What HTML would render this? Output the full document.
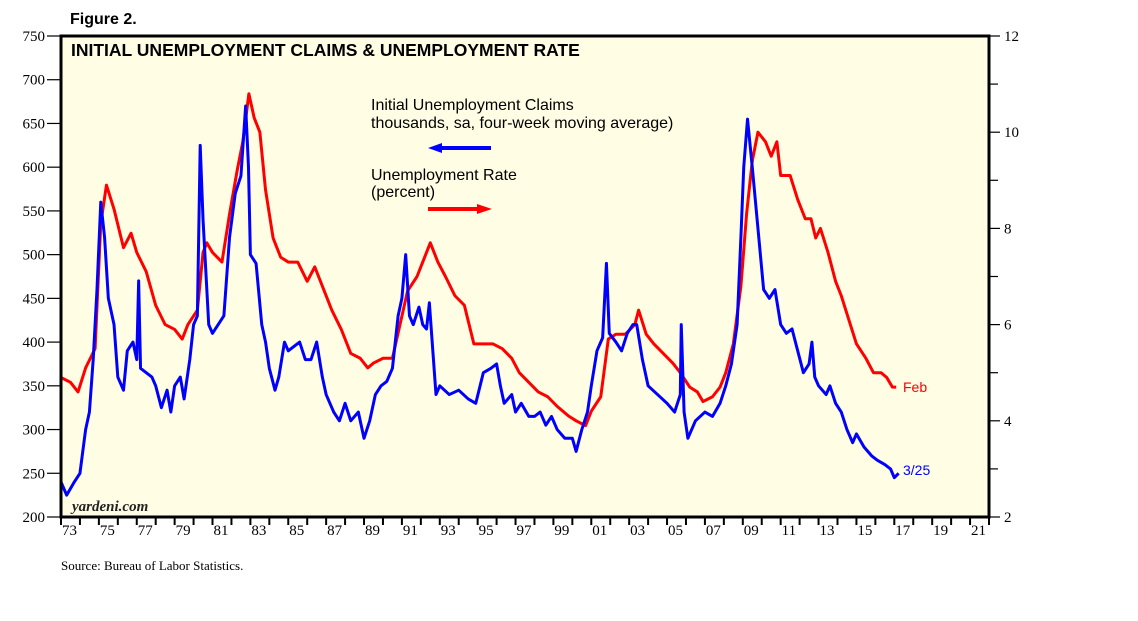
<!DOCTYPE html>
<html><head><meta charset="utf-8"><style>
body{margin:0;background:#fff;width:1138px;height:621px;overflow:hidden;font-family:"Liberation Sans",sans-serif}
svg{position:absolute;left:0;top:0}
</style></head><body>
<svg id="c" width="1138" height="621">
<text x="70" y="24" font-size="16" font-weight="bold" font-family="Liberation Sans">Figure 2.</text>
<rect x="61" y="36" width="928" height="481" fill="#fffde3"/>
<g id="grid"></g>
<text x="71" y="56" font-size="17.5" font-weight="bold" font-family="Liberation Sans">INITIAL UNEMPLOYMENT CLAIMS &amp; UNEMPLOYMENT RATE</text>
<text x="371" y="110" font-size="16" font-family="Liberation Sans">Initial Unemployment Claims</text>
<text x="371" y="128" font-size="16" font-family="Liberation Sans">thousands, sa, four-week moving average)</text>
<g><line x1="440" y1="148" x2="491" y2="148" stroke="#0000ff" stroke-width="4"/><polygon points="428,148 442,143 442,153" fill="#0000ff"/></g>
<text x="371" y="180" font-size="16" font-family="Liberation Sans">Unemployment Rate</text>
<text x="371" y="197" font-size="16" font-family="Liberation Sans">(percent)</text>
<g><line x1="428" y1="209" x2="479" y2="209" stroke="#ff0000" stroke-width="4"/><polygon points="492,209 477,204 477,214" fill="#ff0000"/></g>
<g id="series"></g>
<rect x="61" y="36" width="928" height="481" fill="none" stroke="#000" stroke-width="3"/>
<text x="72" y="511" font-size="15" font-style="italic" font-weight="bold" font-family="Liberation Serif" fill="#222">yardeni.com</text>
<text x="903" y="392" font-size="14" fill="#ff0000" font-family="Liberation Sans">Feb</text>
<text x="903" y="475" font-size="14" fill="#0000ff" font-family="Liberation Sans">3/25</text>
<text x="61" y="570" font-size="13" font-family="Liberation Serif">Source: Bureau of Labor Statistics.</text>
</svg>
<script>
const claimsT=[1973.0,1973.3,1973.7,1974.0,1974.3,1974.5,1974.7,1974.9,1975.1,1975.3,1975.5,1975.8,1976.0,1976.3,1976.5,1976.8,1977.0,1977.1,1977.2,1977.5,1977.8,1978.0,1978.3,1978.6,1978.8,1979.0,1979.3,1979.5,1979.8,1980.0,1980.2,1980.35,1980.5,1980.8,1981.0,1981.3,1981.6,1981.9,1982.2,1982.5,1982.75,1982.9,1983.0,1983.3,1983.6,1983.8,1984.0,1984.3,1984.5,1984.8,1985.0,1985.3,1985.6,1985.9,1986.2,1986.5,1986.8,1987.0,1987.4,1987.7,1988.0,1988.3,1988.7,1989.0,1989.3,1989.6,1989.9,1990.2,1990.5,1990.8,1991.0,1991.2,1991.4,1991.6,1991.9,1992.1,1992.3,1992.45,1992.6,1992.8,1993.0,1993.5,1994.0,1994.5,1994.9,1995.3,1995.7,1996.0,1996.2,1996.4,1996.8,1997.0,1997.3,1997.7,1998.0,1998.3,1998.6,1998.9,1999.2,1999.6,2000.0,2000.2,2000.5,2000.8,2001.0,2001.3,2001.6,2001.8,2001.95,2002.3,2002.6,2002.9,2003.2,2003.4,2003.7,2004.0,2004.5,2005.0,2005.4,2005.7,2005.75,2005.9,2006.1,2006.5,2007.0,2007.4,2007.8,2008.1,2008.4,2008.7,2008.9,2009.05,2009.25,2009.5,2009.8,2010.1,2010.4,2010.7,2011.0,2011.3,2011.6,2011.9,2012.2,2012.5,2012.65,2012.8,2013.0,2013.4,2013.6,2013.9,2014.2,2014.5,2014.8,2015.0,2015.4,2015.8,2016.1,2016.5,2016.8,2017.0,2017.23];
const claimsV=[240,225,240,250,300,320,380,460,560,520,450,420,360,345,390,400,380,470,370,365,360,350,325,345,320,350,360,335,380,420,430,625,540,420,410,420,430,520,570,590,670,600,500,490,420,400,370,345,360,400,390,395,400,380,380,400,360,340,320,310,330,310,320,290,310,340,350,355,370,430,450,500,430,420,440,420,415,445,400,340,350,340,345,335,330,365,370,375,350,330,340,320,330,315,315,320,305,315,300,290,290,275,300,320,350,390,405,490,410,400,390,410,420,420,380,350,340,330,320,340,420,320,290,310,320,315,330,350,375,420,520,600,655,600,530,460,450,460,420,410,415,390,365,375,400,360,350,340,350,330,320,300,285,295,280,270,265,260,255,245,250];
const rateT=[1973.0,1973.5,1973.9,1974.3,1974.8,1975.1,1975.4,1975.8,1976.3,1976.7,1977.0,1977.5,1978.0,1978.5,1979.0,1979.4,1979.7,1980.2,1980.5,1980.7,1981.0,1981.5,1981.9,1982.3,1982.6,1982.92,1983.2,1983.5,1983.8,1984.2,1984.6,1985.0,1985.5,1986.0,1986.4,1986.9,1987.3,1987.8,1988.3,1988.8,1989.2,1989.5,1990.0,1990.5,1990.9,1991.3,1991.8,1992.1,1992.5,1992.9,1993.3,1993.8,1994.3,1994.8,1995.3,1995.8,1996.3,1996.8,1997.2,1997.7,1998.2,1998.7,1999.2,1999.8,2000.2,2000.7,2001.0,2001.5,2001.9,2002.3,2002.8,2003.3,2003.5,2003.9,2004.3,2004.8,2005.3,2005.7,2006.2,2006.6,2006.9,2007.4,2007.8,2008.1,2008.5,2008.9,2009.2,2009.5,2009.8,2010.2,2010.5,2010.8,2011.0,2011.5,2011.9,2012.3,2012.6,2012.85,2013.1,2013.5,2013.9,2014.2,2014.6,2015.0,2015.5,2015.9,2016.3,2016.6,2016.9,2017.1];
const rateV=[4.9,4.8,4.6,5.1,5.5,8.1,8.9,8.4,7.6,7.9,7.5,7.1,6.4,6.0,5.9,5.7,6.0,6.3,7.5,7.7,7.5,7.3,8.3,9.2,9.8,10.8,10.3,10.0,8.8,7.8,7.4,7.3,7.3,6.9,7.2,6.7,6.3,5.9,5.4,5.3,5.1,5.2,5.3,5.3,6.0,6.7,7.0,7.3,7.7,7.3,7.0,6.6,6.4,5.6,5.6,5.6,5.5,5.3,5.0,4.8,4.6,4.5,4.3,4.1,4.0,3.9,4.2,4.5,5.7,5.8,5.8,6.0,6.3,5.8,5.6,5.4,5.2,5.0,4.7,4.6,4.4,4.5,4.7,5.0,5.6,6.8,8.3,9.4,10.0,9.8,9.5,9.8,9.1,9.1,8.6,8.2,8.2,7.8,8.0,7.5,6.9,6.6,6.1,5.6,5.3,5.0,5.0,4.9,4.7,4.7];
const leftTicks=[200,250,300,350,400,450,500,550,600,650,700,750];
const rightTicks=[2,4,6,8,10,12];
const yearLabels=['73','75','77','79','81','83','85','87','89','91','93','95','97','99','01','03','05','07','09','11','13','15','17','19','21'];
const L=61,R=989,T=36,B=517,Y0=1973,Y1=2022;
const xs=t=>L+(t-Y0)/(Y1-Y0)*(R-L);
const yl=v=>B-(v-200)/550*(B-T);
const yr=v=>B-(v-2)/10*(B-T);
const NS='http://www.w3.org/2000/svg';
const g=document.getElementById('grid'),s=document.getElementById('series');
function mk(tag,a,p){const e=document.createElementNS(NS,tag);for(const k in a)e.setAttribute(k,a[k]);p.appendChild(e);return e;}
leftTicks.forEach(v=>{
 const l=mk('line',{x1:47,x2:L,y1:yl(v),y2:yl(v),stroke:'#000','stroke-width':1.2},g);
 
 
 const t=mk('text',{x:45,y:yl(v)+5,'text-anchor':'end','font-size':15,'font-family':'Liberation Serif'},g);t.textContent=v;
 
 
});
for(let v=3;v<12;v+=2){const l=mk('line',{x1:R,x2:R+9,y1:yr(v),y2:yr(v),stroke:'#000','stroke-width':1.2},g);
 
 }
rightTicks.forEach(v=>{
 const l=mk('line',{x1:R,x2:R+11,y1:yr(v),y2:yr(v),stroke:'#000','stroke-width':1.2},g);
 
 
 const t=mk('text',{x:R+15,y:yr(v)+5,'font-size':15,'font-family':'Liberation Serif'},g);t.textContent=v;
 
 
});
for(let y=Y0;y<=Y1;y++){const l=mk('line',{x1:xs(y),x2:xs(y),y1:B,y2:B+8,stroke:'#000','stroke-width':2},g);
 
 }
yearLabels.forEach((lb,i)=>{const t=mk('text',{x:xs(Y0+2*i)+1,y:B+18,'font-size':15,'font-family':'Liberation Serif'},g);t.textContent=lb;
 
 });
const rp=mk('polyline',{points:rateT.map((t,i)=>xs(t)+','+yr(rateV[i])).join(' '),fill:'none',stroke:'#ff0000','stroke-width':3,'stroke-linejoin':'round'},s);


const cp=mk('polyline',{points:claimsT.map((t,i)=>xs(t)+','+yl(claimsV[i])).join(' '),fill:'none',stroke:'#0000ff','stroke-width':3,'stroke-linejoin':'round'},s);


</script>
</body></html>
